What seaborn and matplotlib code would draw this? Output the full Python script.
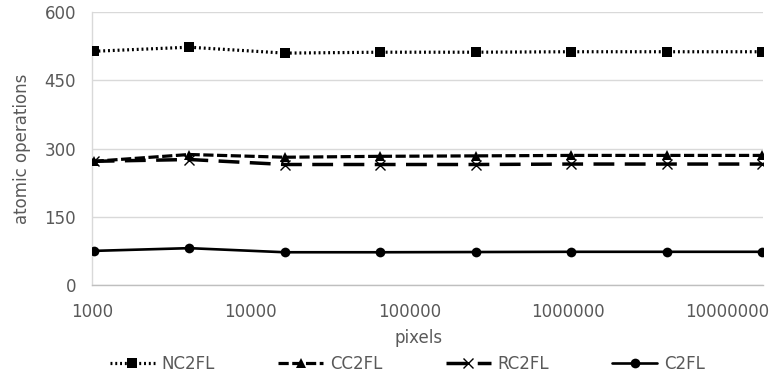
import matplotlib
matplotlib.use("Agg")
import matplotlib.pyplot as plt
import matplotlib.ticker as mticker
import seaborn as sns
import pandas as pd

# Image sizes (pixels) and measured atomic operation counts
pixels = [1024, 4096, 16384, 65536, 262144, 1048576, 4194304, 16777216]
nc2fl = [514, 523, 510, 512, 512, 513, 513, 513]
cc2fl = [272, 287, 281, 283, 284, 285, 285, 285]
rc2fl = [272, 276, 265, 265, 265, 266, 266, 266]
c2fl = [75, 81, 72, 72, 72.5, 73, 73, 73]

series_names = ["NC2FL", "CC2FL", "RC2FL", "C2FL"]
x_ticks = [1000, 10000, 100000, 1000000, 10000000]
y_ticks = [0, 150, 300, 450, 600]

sns.set_theme(style="white")
plt.rcParams["font.family"] = ["DejaVu Sans"]

text_color = "#595959"

fig, ax = plt.subplots(figsize=(7.7, 3.81), dpi=100)
fig.subplots_adjust(left=0.1195, right=0.991, top=0.968, bottom=0.252)

styles = {
    "NC2FL": dict(values=nc2fl, marker="s", ms=6.8, lw=2.3, dashes=(0.6, 0.9), mew=0),
    "CC2FL": dict(values=cc2fl, marker="^", ms=7.5, lw=2.3, dashes=(3.2, 1.1), mew=0),
    "RC2FL": dict(values=rc2fl, marker="x", ms=7, lw=2.5, dashes=(6.0, 3.0), mew=1.0),
    "C2FL": dict(values=c2fl, marker="o", ms=7, lw=1.9, dashes=None, mew=0),
}

for name in series_names:
    st = styles[name]
    df = pd.DataFrame({"pixels": pixels, "ops": st["values"]})
    kw = dict(marker=st["marker"], markersize=st["ms"], markeredgewidth=st["mew"],
              markeredgecolor="black", markerfacecolor="black")
    sns.lineplot(data=df, x="pixels", y="ops", ax=ax, color="black",
                 linewidth=st["lw"], label=name, **kw)
    ln = ax.get_lines()[-1]
    if st["dashes"] is not None:
        ln.set_dashes(st["dashes"])
        ln.set_dash_capstyle("butt")
    ln.set_zorder(3)

ax.set_xscale("log")
ax.set_xlim(1000, 16777216 * 1.01)
ax.set_ylim(0, 600)
ax.set_xticks(x_ticks)
ax.xaxis.set_major_formatter(mticker.FuncFormatter(lambda v, p: f"{int(round(v))}"))
ax.xaxis.set_minor_locator(mticker.NullLocator())
ax.set_yticks(y_ticks)

ax.yaxis.grid(True, color="#d9d9d9", linewidth=1.0)
ax.xaxis.grid(False)
for side in ["top", "right"]:
    ax.spines[side].set_visible(False)
ax.spines["left"].set_color("#d9d9d9")
ax.spines["bottom"].set_color("#bfbfbf")
ax.spines["left"].set_linewidth(1.0)
ax.spines["bottom"].set_linewidth(1.0)

ax.tick_params(axis="both", length=0, labelsize=12, colors=text_color)
ax.tick_params(axis="y", pad=11.5)
ax.tick_params(axis="x", pad=13)
ax.set_xlabel("pixels", fontsize=12, color=text_color)
ax.set_ylabel("atomic operations", fontsize=12, color=text_color)
ax.xaxis.set_label_coords(0.487, -0.16)
ax.yaxis.set_label_coords(-0.091, 0.5)

handles, labels = ax.get_legend_handles_labels()
leg = fig.legend(handles, labels, loc="center", bbox_to_anchor=(0.529, 0.045),
                 ncol=4, frameon=False, fontsize=12, handlelength=2.7,
                 columnspacing=3.8, handletextpad=0.4, borderaxespad=0)
for t in leg.get_texts():
    t.set_color(text_color)
if ax.get_legend() is not None:
    ax.get_legend().remove()

fig.savefig("out.png", dpi=100)
